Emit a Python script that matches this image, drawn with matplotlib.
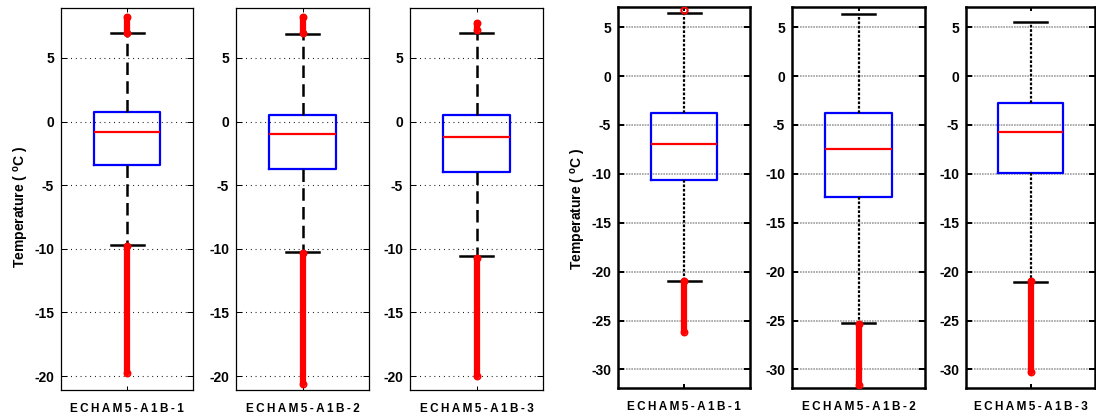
import matplotlib
matplotlib.use("Agg")
import matplotlib.pyplot as plt

plt.rcParams['font.family'] = ['Liberation Sans', 'DejaVu Sans']
plt.rcParams['font.weight'] = 'bold'
plt.rcParams['axes.unicode_minus'] = False
plt.rcParams['mathtext.fontset'] = 'custom'
plt.rcParams['mathtext.rm'] = 'Liberation Sans:bold'
plt.rcParams['mathtext.it'] = 'Liberation Sans:bold'

labels = ["ECHAM5-A1B-1", "ECHAM5-A1B-2", "ECHAM5-A1B-3"]

# Left group (annual temperature)
L_q1 = [-3.4, -3.75, -4.0]
L_med = [-0.83, -0.95, -1.2]
L_q3 = [0.73, 0.5, 0.5]
L_whislo = [-9.7, -10.25, -10.6]
L_whishi = [6.95, 6.9, 7.0]
L_out_hi = [(7.0, 8.2), (7.0, 8.2), (7.2, 7.75)]
L_out_lo = [(-9.75, -19.8), (-10.3, -20.6), (-10.7, -20.0)]

# Right group (winter temperature)
R_q1 = [-10.6, -12.4, -9.9]
R_med = [-6.95, -7.5, -5.75]
R_q3 = [-3.75, -3.8, -2.8]
R_whislo = [-20.95, -25.3, -21.05]
R_whishi = [6.4, 6.3, 5.5]
R_out_hi = [(6.8, 6.8), None, None]
R_out_lo = [(-21.0, -26.2), (-25.4, -31.6), (-21.0, -30.3)]

W, H = 1096, 416
fig = plt.figure(figsize=(W / 100, H / 100), dpi=100)

left_x = [61, 236, 410]
right_x = [618, 792, 966]
left_w = [132, 133, 133]
right_w = [132, 133, 129]


def add_ax(x, w, ytop, ybot):
    return fig.add_axes([x / W, 1 - ybot / H, w / W, (ybot - ytop) / H])


def spaced(s):
    return '\u2009'.join(s)


def draw(ax, q1, med, q3, lo, hi, outs, style):
    stats = [dict(med=med, q1=q1, q3=q3, whislo=lo, whishi=hi, fliers=[])]
    if style == 'L':
        wprops = dict(color='black', lw=1.8, linestyle=(0, (5, 2.5)))
        spine_lw = 0.9
    else:
        wprops = dict(color='black', lw=1.6, linestyle=(0, (1.2, 0.8)))
        spine_lw = 1.8
    ax.bxp(stats, positions=[1], widths=0.5, showfliers=False,
           boxprops=dict(color='#0000ff', lw=1.6),
           medianprops=dict(color='#ff0000', lw=1.6),
           whiskerprops=wprops,
           capprops=dict(color='black', lw=1.8),
           capwidths=0.25, manage_ticks=False)
    for o in outs:
        if o is None:
            continue
        a, b = o
        ax.plot([1, 1], [a, b], color='#ff0000', lw=4.5, solid_capstyle='round', zorder=4)
        ax.plot([1, 1], [a, b], 'o', mfc='none', mec='#ff0000', ms=4.5, mew=1.2, zorder=4)
    ax.set_xlim(0.5, 1.5)
    for s in ax.spines.values():
        s.set_linewidth(spine_lw)
    ax.set_xticks([1])
    ax.tick_params(axis='both', direction='in', top=True, right=True,
                   labelsize=10, length=4, width=spine_lw * 0.8, pad=5)
    ax.tick_params(axis='x', length=3, pad=9)


ylab = r'Temperature ( $^{\mathrm{o}}$C )'

for i in range(3):
    ax = add_ax(left_x[i], left_w[i], 8, 390)
    draw(ax, L_q1[i], L_med[i], L_q3[i], L_whislo[i], L_whishi[i],
         [L_out_hi[i], L_out_lo[i]], 'L')
    ax.set_ylim(-21.1, 8.93)
    ax.set_yticks([-20, -15, -10, -5, 0, 5])
    ax.set_yticklabels([str(v) for v in [-20, -15, -10, -5, 0, 5]], fontweight='bold')
    ax.yaxis.grid(True, color='black', linestyle=(0, (0.8, 3.5)), lw=0.8)
    ax.set_axisbelow(True)
    ax.set_xticklabels([spaced(labels[i])], fontsize=8.5, fontweight='bold')
    if i == 0:
        ax.set_ylabel(ylab, fontsize=10, fontweight='bold')
        ax.yaxis.set_label_coords(-0.23, 0.48)

for i in range(3):
    ax = add_ax(right_x[i], right_w[i], 7, 388)
    draw(ax, R_q1[i], R_med[i], R_q3[i], R_whislo[i], R_whishi[i],
         [R_out_hi[i], R_out_lo[i]], 'R')
    ax.set_ylim(-31.9, 7.06)
    ax.set_yticks([-30, -25, -20, -15, -10, -5, 0, 5])
    ax.set_yticklabels([str(v) for v in [-30, -25, -20, -15, -10, -5, 0, 5]], fontweight='bold')
    ax.yaxis.grid(True, color='0.62', linestyle=(0, (1, 0.6)), lw=1.2)
    ax.set_axisbelow(True)
    ax.set_xticklabels([spaced(labels[i])], fontsize=8.5, fontweight='bold')
    if i == 0:
        ax.set_ylabel(ylab, fontsize=10, fontweight='bold')
        ax.yaxis.set_label_coords(-0.23, 0.47)

fig.savefig('out.png', dpi=100)
